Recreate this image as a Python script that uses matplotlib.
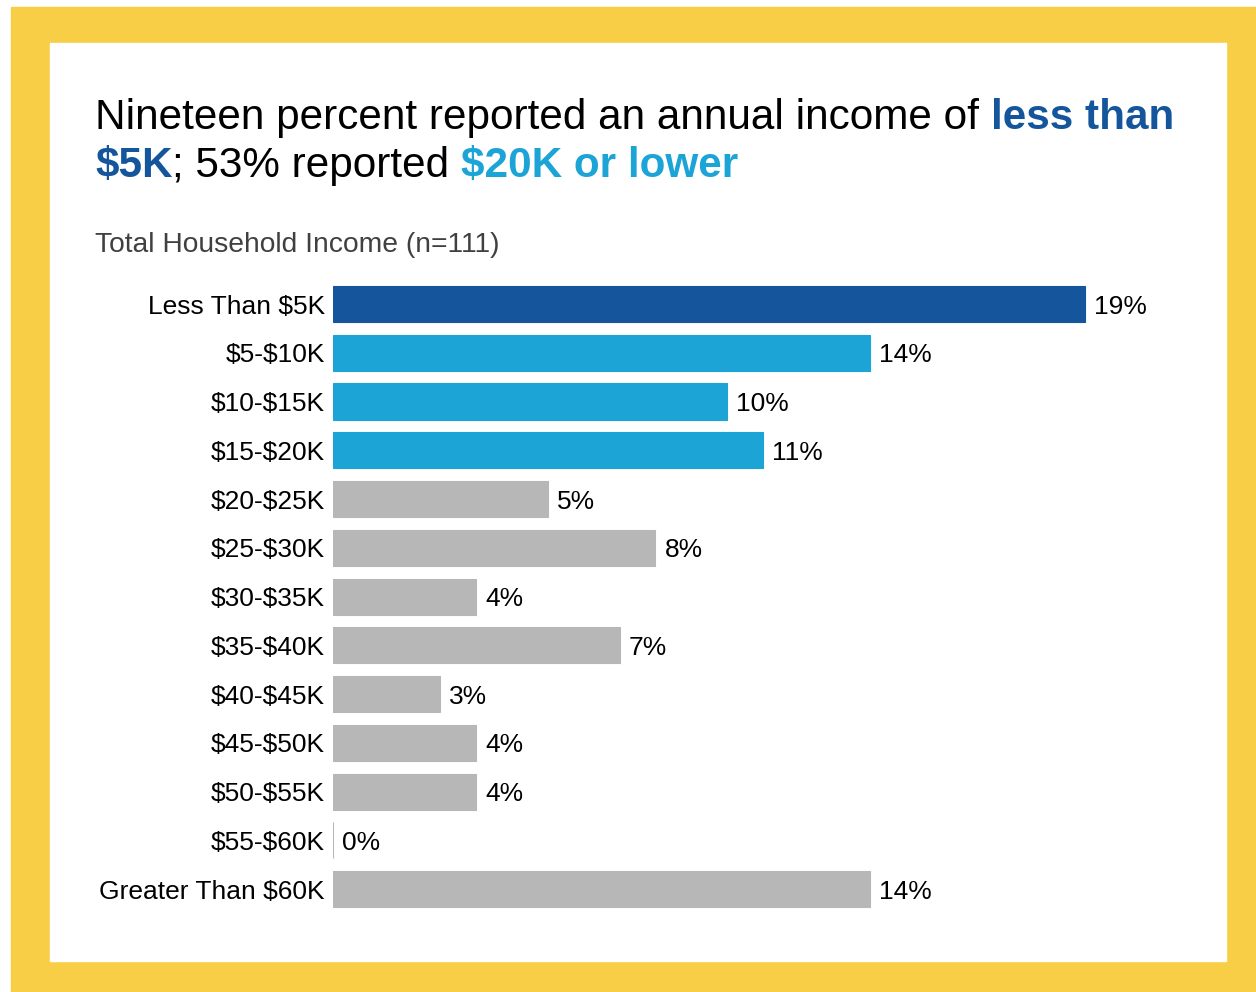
import matplotlib
matplotlib.use('Agg')
import matplotlib.pyplot as plt
from matplotlib.patches import Rectangle
from matplotlib.transforms import offset_copy

plt.rcParams['font.family'] = ['Liberation Sans', 'DejaVu Sans']
plt.rcParams['text.parse_math'] = False

# Household income brackets and share of respondents (%)
categories = ['Less Than $5K', '$5-$10K', '$10-$15K', '$15-$20K', '$20-$25K',
              '$25-$30K', '$30-$35K', '$35-$40K', '$40-$45K', '$45-$50K',
              '$50-$55K', '$55-$60K', 'Greater Than $60K']
shares = [18.9, 13.5, 9.9, 10.8, 5.4, 8.1, 3.6, 7.2, 2.7, 3.6, 3.6, 0.0, 13.5]

DARK_BLUE = '#14559b'
LIGHT_BLUE = '#1ba4d5'
GRAY = '#b7b7b7'
YELLOW = '#f9ce47'

bar_colors = [DARK_BLUE] + [LIGHT_BLUE] * 3 + [GRAY] * (len(categories) - 4)

fig = plt.figure(figsize=(12.56, 9.92), dpi=100)

# frame: yellow border with white panel
fig.patches.append(Rectangle((11 / 1256, 0), 1 - 11 / 1256, 1 - 7 / 992,
                             transform=fig.transFigure, color=YELLOW, zorder=-2))
fig.patches.append(Rectangle((50 / 1256, 31 / 992), 1176 / 1256, 918 / 992,
                             transform=fig.transFigure, color='white', zorder=-1))

ax = fig.add_axes([333 / 1256, 0.0792, 796 / 1256, 0.6389])
ax.set_facecolor('none')
y = list(range(len(categories)))
ax.barh(y, shares, height=0.74, color=bar_colors, edgecolor=bar_colors, linewidth=0.8)
ax.set_xlim(0, 20)
ax.set_ylim(len(categories) - 0.5, -0.5)
ax.set_yticks(y)
ax.set_yticklabels(categories, fontsize=19)
ax.tick_params(axis='y', length=0, pad=6)
ax.set_xticks([])
for s in ax.spines.values():
    s.set_visible(False)

for yi, v in zip(y, shares):
    ax.text(v, yi, f'{v:.0f}%', transform=offset_copy(ax.transData, fig=fig, x=9, y=0, units='dots'),
            va='center_baseline', ha='left', fontsize=19, color='black')


def draw_runs(x0, yb, runs, size):
    """Draw a line of text made of differently styled pieces, left to right."""
    renderer = fig.canvas.get_renderer()
    x = x0
    for txt, color, weight in runs:
        t = fig.text(x / 1256, 1 - yb / 992, txt, fontsize=size, color=color,
                     fontweight=weight, va='baseline', ha='left')
        bb = t.get_window_extent(renderer=renderer)
        x += bb.width


draw_runs(95, 129, [('Nineteen percent reported an annual income of ', 'black', 'normal'),
                    ('less than', DARK_BLUE, 'bold')], 30.4)
draw_runs(95, 177, [('$5K', DARK_BLUE, 'bold'),
                    ('; 53% reported ', 'black', 'normal'),
                    ('$20K or lower', LIGHT_BLUE, 'bold')], 30.4)

fig.text(95 / 1256, 1 - 252 / 992, 'Total Household Income (n=111)', fontsize=20.3,
         color='#404040', va='baseline', ha='left')

fig.savefig('out.png', dpi=100)
